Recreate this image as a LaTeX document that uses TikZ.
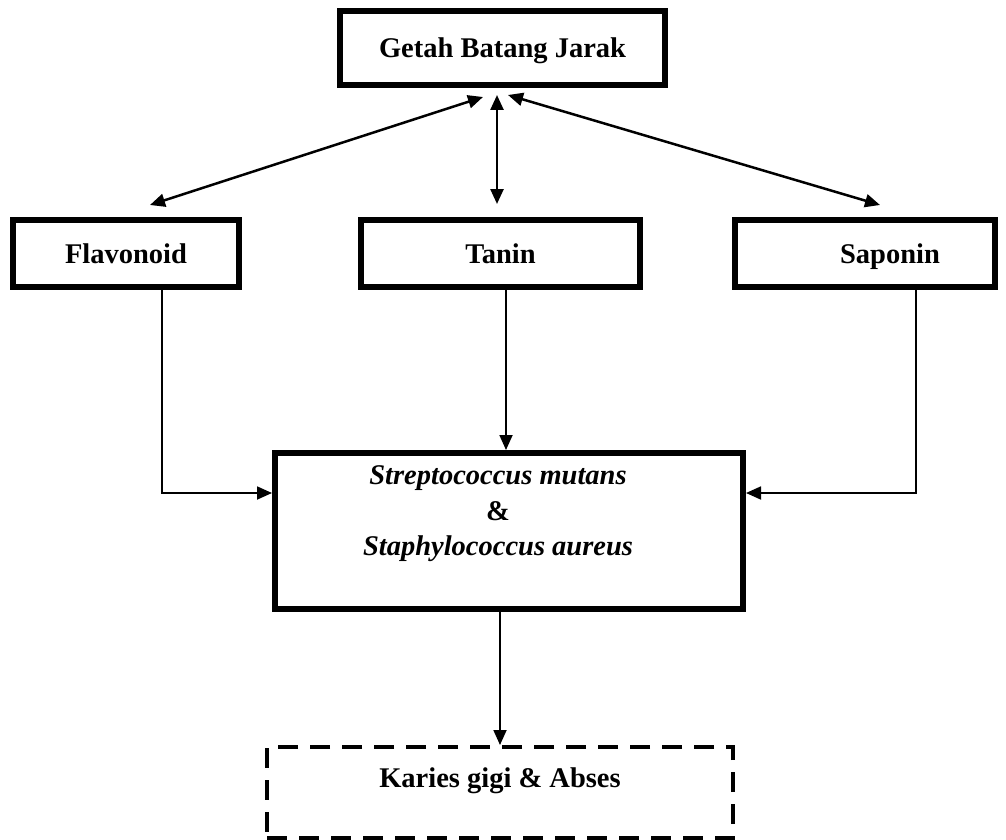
\documentclass[tikz,border=0pt]{standalone}
\usepackage{fontspec}
\setmainfont{Liberation Serif}
\usetikzlibrary{arrows.meta,calc}
\begin{document}
\begin{tikzpicture}[x=1pt,y=-1pt,
  boxnode/.style={draw, line width=6pt, inner sep=0pt, align=center,
    text height=19pt, text depth=0pt,
    font=\fontsize{28.5}{34}\selectfont\bfseries},
  plainbox/.style={draw, line width=6pt, inner sep=0pt},
  dashnode/.style={draw, line width=4pt, dash pattern=on 20pt off 12pt, inner sep=0pt},
  lbl/.style={inner sep=0pt, align=center, font=\fontsize{28.5}{35.5}\selectfont\bfseries},
  biarrow/.style={line width=2.5pt, {Triangle[length=15pt,width=13pt]}-{Triangle[length=15pt,width=13pt]}},
  thinarrow/.style={line width=1.8pt, -{Triangle[length=15pt,width=13pt]}}
]
\useasboundingbox (0,0) rectangle (1006,840);
\node[boxnode, minimum width=325pt, minimum height=74pt] (top) at (502.5,48) {Getah Batang Jarak};
\node[boxnode, minimum width=226pt, minimum height=67pt] (flav) at (126,253.5) {Flavonoid};
\node[boxnode, minimum width=279pt, minimum height=67pt] (tanin) at (500.5,253.5) {Tanin};
\node[boxnode, minimum width=260pt, minimum height=67pt] (sap) at (865,253.5) {\hspace*{50pt}Saponin};
\node[plainbox, minimum width=468pt, minimum height=156pt] (mid) at (509,531) {};
\node[lbl] (midtext) at (498,514) {\itshape Streptococcus mutans\\ \&\\ \itshape Staphylococcus aureus};
\node[dashnode, minimum width=466pt, minimum height=91pt] (kar) at (500,792.5) {};
\node[lbl] (kartext) at (500,781) {Karies gigi \& Abses};

\draw[biarrow] ($(flav.north)+(24,-12)$) -- ($(top.south)+(-19.5,9)$);
\draw[biarrow] ($(tanin.north)+(-3.5,-13)$) -- ($(top.south)+(-5.5,7)$);
\draw[biarrow] ($(sap.north)+(15,-12)$) -- ($(top.south)+(5.5,7)$);

\coordinate (tb) at ($(tanin.south)+(5.5,0)$);
\draw[thinarrow] (tb) -- (tb |- mid.north);
\coordinate (fb) at ($(flav.south)+(36,0)$);
\draw[thinarrow] (fb) |- ($(mid.west)+(0,-38)$);
\coordinate (sb) at ($(sap.south)+(51,0)$);
\draw[thinarrow] (sb) |- ($(mid.east)+(0,-38)$);
\coordinate (mb) at (mid.south -| kar.north);
\draw[thinarrow] (mb) -- (kar.north);
\end{tikzpicture}
\end{document}
